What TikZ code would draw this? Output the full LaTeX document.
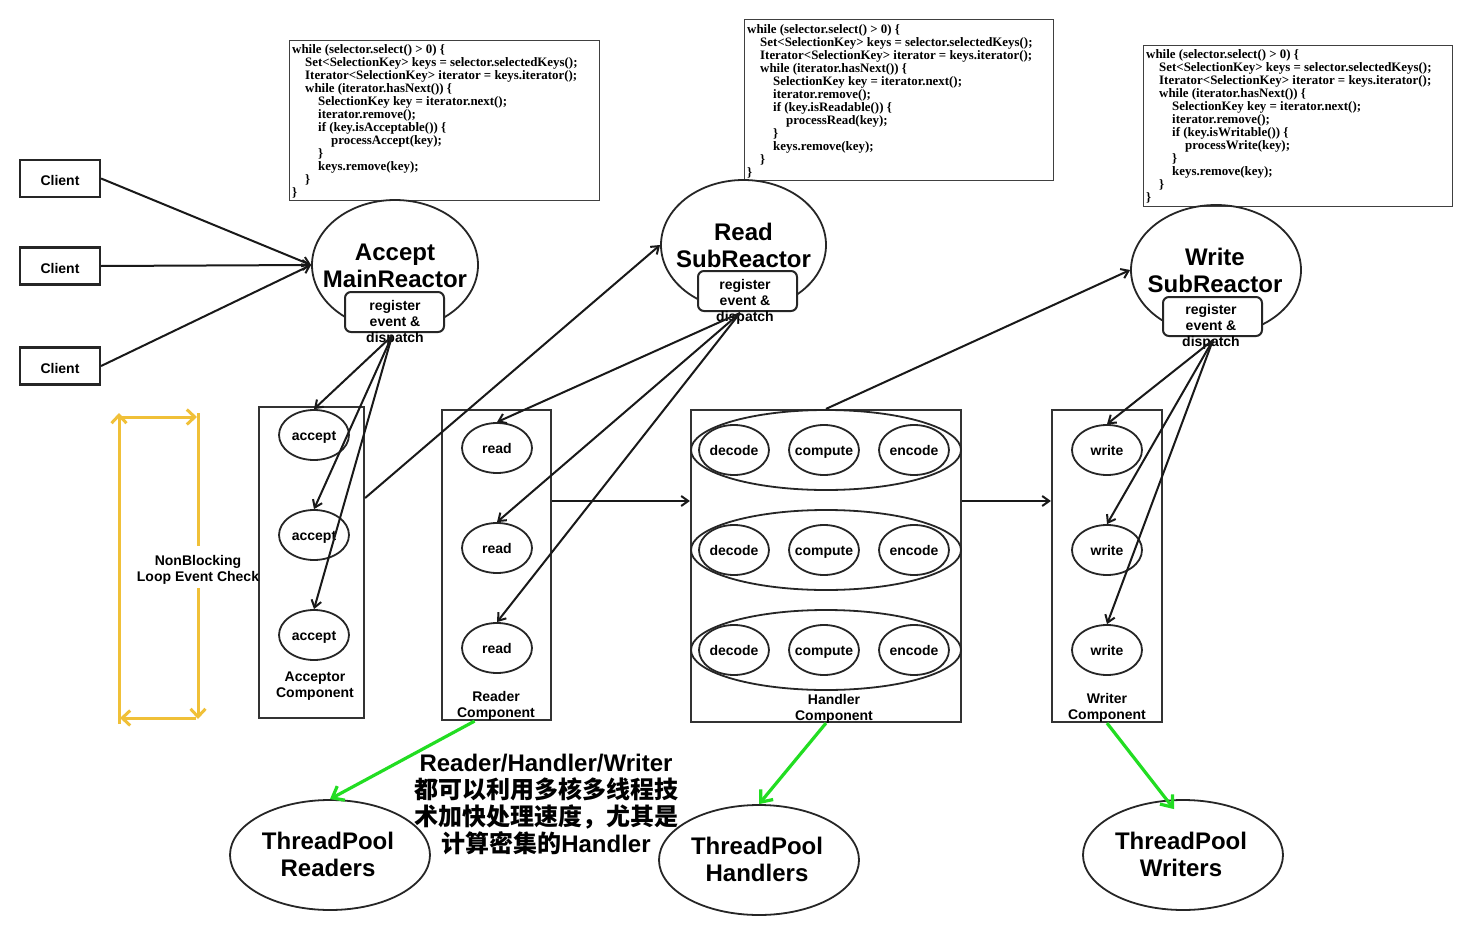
\documentclass[tikz,border=0pt]{standalone}
\usepackage{fontspec}
\setmainfont{Liberation Sans}
\newfontfamily\codefont{Liberation Serif}
\newfontfamily\cjk{Noto Sans CJK SC}
\usetikzlibrary{shapes.geometric,arrows.meta,calc}
\definecolor{lgreen}{RGB}{34,221,34}
\definecolor{lgold}{RGB}{240,192,56}
\definecolor{lnk}{RGB}{25,25,25}
\newcommand{\ind}{\hspace*{13pt}}
\newcommand{\ml}[1]{\makebox[20pt][c]{#1}}
\begin{document}
\begin{tikzpicture}[x=1pt,y=-1pt,
  every node/.style={font=\bfseries\fontsize{14}{16}\selectfont, inner sep=0pt, align=center},
  boxx/.style={draw=black!80, line width=2.2pt, rectangle},
  clientbox/.style={draw=black!85, line width=2.2pt, rectangle, minimum width=80pt, minimum height=37pt, text height=14pt, text depth=0pt},
  codebox/.style={draw=black!75, line width=1.1pt, rectangle, anchor=north west},
  codetxt/.style={anchor=north west, align=left, font=\codefont\bfseries\fontsize{12.9}{13}\selectfont},
  ov/.style={draw=black!85, line width=1.8pt, ellipse, minimum width=70pt, minimum height=50pt, text height=14pt, text depth=3pt},
  bigov/.style={draw=black!85, line width=1.8pt, ellipse},
  regbox/.style={draw=black!85, line width=2pt, rectangle, rounded corners=6pt, fill=white, minimum width=99pt, minimum height=40pt},
  bigtxt/.style={font=\bfseries\fontsize{24}{27}\selectfont},
  arr/.style={draw=lnk, line width=2pt, -{Straight Barb[length=7pt,width=10pt]}},
  garr/.style={draw=lgreen, line width=3.2pt, -{Straight Barb[length=10pt,width=16pt]}},
  yl/.style={draw=lgold, line width=3pt},
  yarr/.style={draw=lgold, line width=3pt, -{Straight Barb[length=8pt,width=15pt]}}
]
\useasboundingbox (0,0) rectangle (1473,934);
\fill[white] (0,0) rectangle (1473,934);

% clients
\node[clientbox] (c1) at (60,178.5) {Client};
\node[clientbox] (c2) at (60,266) {Client};
\node[clientbox] (c3) at (60,366) {Client};

% code boxes
\node[codebox, minimum width=310pt, minimum height=160pt] (code1) at (289,40) {};
\node[codetxt] (code1t) at (292,44) {while (selector.select() > 0) \{\\
\ind Set<SelectionKey> keys = selector.selectedKeys();\\
\ind Iterator<SelectionKey> iterator = keys.iterator();\\
\ind while (iterator.hasNext()) \{\\
\ind\ind SelectionKey key = iterator.next();\\
\ind\ind iterator.remove();\\
\ind\ind if (key.isAcceptable()) \{\\
\ind\ind\ind processAccept(key);\\
\ind\ind \}\\
\ind\ind keys.remove(key);\\
\ind \}\\
\}};
\node[codebox, minimum width=309pt, minimum height=161pt] (code2) at (744,19) {};
\node[codetxt] (code2t) at (747,24) {while (selector.select() > 0) \{\\
\ind Set<SelectionKey> keys = selector.selectedKeys();\\
\ind Iterator<SelectionKey> iterator = keys.iterator();\\
\ind while (iterator.hasNext()) \{\\
\ind\ind SelectionKey key = iterator.next();\\
\ind\ind iterator.remove();\\
\ind\ind if (key.isReadable()) \{\\
\ind\ind\ind processRead(key);\\
\ind\ind \}\\
\ind\ind keys.remove(key);\\
\ind \}\\
\}};
\node[codebox, minimum width=309pt, minimum height=161pt] (code3) at (1143,45) {};
\node[codetxt] (code3t) at (1146,49) {while (selector.select() > 0) \{\\
\ind Set<SelectionKey> keys = selector.selectedKeys();\\
\ind Iterator<SelectionKey> iterator = keys.iterator();\\
\ind while (iterator.hasNext()) \{\\
\ind\ind SelectionKey key = iterator.next();\\
\ind\ind iterator.remove();\\
\ind\ind if (key.isWritable()) \{\\
\ind\ind\ind processWrite(key);\\
\ind\ind \}\\
\ind\ind keys.remove(key);\\
\ind \}\\
\}};

% reactors
\node[bigov, minimum width=166pt, minimum height=130pt] (mainR) at (395,265) {};
\node[bigtxt] (mainRt) at (395,265.5) {Accept\\MainReactor};
\node[regbox] (regA) at (394.5,312) {};
\node (regAt) at (395,323) {register\\event \&\\dispatch};
\coordinate (dA) at (392,336);

\node[bigov, minimum width=165pt, minimum height=130pt] (readR) at (743.5,245) {};
\node[bigtxt] (readRt) at (743.5,245.5) {Read\\SubReactor};
\node[regbox] (regR) at (747.5,291) {};
\node (regRt) at (745,302) {register\\event \&\\dispatch};
\coordinate (dR) at (740,313);

\node[bigov, minimum width=170pt, minimum height=130pt] (writeR) at (1216,270) {};
\node[bigtxt] (writeRt) at (1215,270.5) {Write\\SubReactor};
\node[regbox, minimum height=39pt] (regW) at (1212.5,316.5) {};
\node (regWt) at (1211,327) {register\\event \&\\dispatch};
\coordinate (dW) at (1213,340);

% acceptor component
\node[boxx, minimum width=105pt, minimum height=311pt] (accB) at (311.5,562.5) {};
\node[ov] (a1) at (314,435) {\ml{accept}};
\node[ov] (a2) at (314,535) {\ml{accept}};
\node[ov] (a3) at (314,635) {\ml{accept}};
\node (accL) at (315,686) {Acceptor\\Component};

% reader component
\node[boxx, minimum width=109pt, minimum height=310pt] (readB) at (496.5,565) {};
\node[ov] (r1) at (497,448) {\ml{read}};
\node[ov] (r2) at (497,548) {\ml{read}};
\node[ov] (r3) at (497,648) {\ml{read}};
\node (readL) at (496,706) {Reader\\Component};

% handler component
\node[boxx, minimum width=270pt, minimum height=312pt] (handB) at (826,566) {};
\foreach \yy/\k in {450/1,550/2,650/3}{
  \node[bigov, minimum width=270pt, minimum height=80pt] (hrow\k) at (826,\yy) {};
  \node[ov] (dec\k) at (734,\yy) {\ml{decode}};
  \node[ov] (cmp\k) at (824,\yy) {\ml{compute}};
  \node[ov] (enc\k) at (914,\yy) {\ml{encode}};
}
\node (handL) at (834,709) {Handler\\Component};

% writer component
\node[boxx, minimum width=110pt, minimum height=312pt] (writB) at (1107,566) {};
\node[ov] (w1) at (1107,450) {\ml{write}};
\node[ov] (w2) at (1107,550) {\ml{write}};
\node[ov] (w3) at (1107,650) {\ml{write}};
\node (writL) at (1107,708) {Writer\\Component};

% thread pools
\node[bigov, minimum width=200pt, minimum height=110pt] (tpR) at (330,855) {};
\node[bigtxt] (tpRt) at (328,854.5) {ThreadPool\\Readers};
\node[bigov, minimum width=200pt, minimum height=110pt] (tpH) at (759,860) {};
\node[bigtxt] (tpHt) at (757,859.5) {ThreadPool\\Handlers};
\node[bigov, minimum width=200pt, minimum height=110pt] (tpW) at (1183,855) {};
\node[bigtxt] (tpWt) at (1181,854.5) {ThreadPool\\Writers};

% middle note
\node[bigtxt] (note) at (546,804.5) {Reader/Handler/Writer\\{\cjk\bfseries 都可以利用多核多线程技}\\{\cjk\bfseries 术加快处理速度，尤其是}\\{\cjk\bfseries 计算密集的}Handler};

% loop
\node (loopT) at (198,570) {NonBlocking\\Loop Event Check};
\coordinate (y1) at (119,724);
\coordinate (y2) at (119,413);
\coordinate (y3) at (121,417);
\coordinate (y4) at (197,417);
\coordinate (y5) at (198,413);
\coordinate (y6) at (198,546);
\coordinate (y7) at (198,588);
\coordinate (y8) at (198,719);
\coordinate (y9) at (196,718);
\coordinate (y10) at (120,718);
\draw[yarr] (y1) -- (y2);
\draw[yarr] (y3) -- (y4);
\draw[yl] (y5) -- (y6);
\draw[yarr] (y7) -- (y8);
\draw[yarr] (y9) -- (y10);

% connectors
\coordinate (rowY) at (0,501);
\coordinate (accY) at (0,498);
\draw[arr] (c1.east) -- (mainR.west);
\draw[arr] (c2.east) -- (mainR.west);
\draw[arr] (c3.east) -- (mainR.west);
\draw[arr] (dA) -- (a1.north);
\draw[arr] (dA) -- (a2.north);
\draw[arr] (dA) -- (a3.north);
\draw[arr] (accB.east |- accY) -- (readR.west);
\draw[arr] (dR) -- (r1.north);
\draw[arr] (dR) -- (r2.north);
\draw[arr] (dR) -- (r3.north);
\draw[arr] (readB.east |- rowY) -- (handB.west |- rowY);
\draw[arr] (handB.north) -- (writeR.west);
\draw[arr] (handB.east |- rowY) -- (writB.west |- rowY);
\draw[arr] (dW) -- (w1.north);
\draw[arr] (dW) -- (w2.north);
\draw[arr] (dW) -- (w3.north);
\draw[garr] (readB.262.3) -- (tpR.north);
\draw[garr] (handB.south) -- (tpH.north);
\draw[garr] (writB.south) -- ([shift={(-9,10)}]tpW.north);
\end{tikzpicture}
\end{document}
